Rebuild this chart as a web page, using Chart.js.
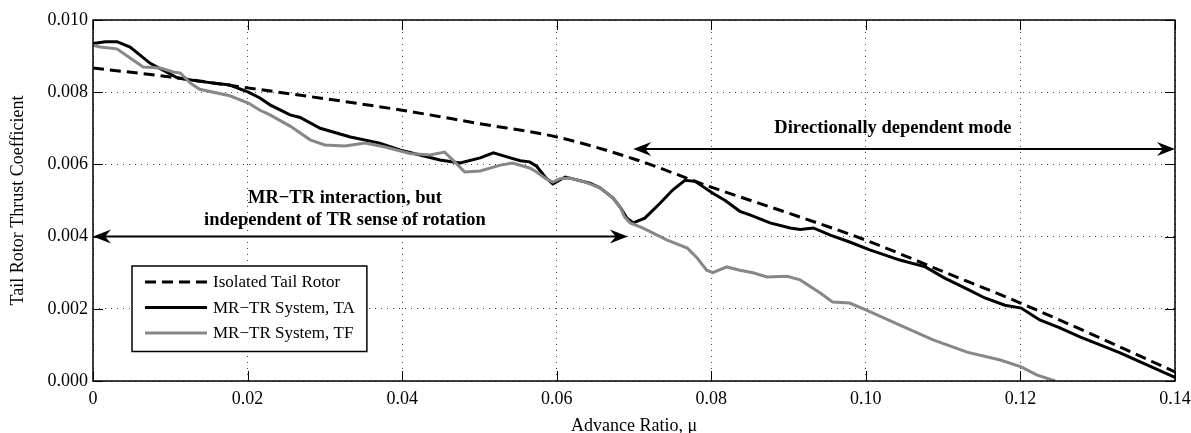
<!DOCTYPE html>
<html>
<head>
<meta charset="utf-8">
<title>Tail Rotor Thrust Coefficient</title>
<script src="https://cdn.jsdelivr.net/npm/chart.js@4.4.1/dist/chart.umd.min.js"></script>
<style>
  html, body { margin: 0; padding: 0; background: #fff; }
  canvas { display: block; }
</style>
</head>
<body>
<canvas id="thrustChart" width="1191" height="433"></canvas>
<script>
// Isolated tail rotor (dashed)
const isoMu = [0, 0.01, 0.02, 0.03, 0.04, 0.05, 0.06, 0.07, 0.08, 0.09, 0.10, 0.11, 0.12, 0.13, 0.14];
const isoCt = [0.00867, 0.00842, 0.00812, 0.00782, 0.0075, 0.00713, 0.00676, 0.00615, 0.00537, 0.00465, 0.00390, 0.00303, 0.00216, 0.00122, 0.00025];

// MR-TR system, TA
const taMu = [0, 0.0016, 0.0031, 0.0048, 0.0074, 0.0109, 0.0138, 0.0177, 0.0201, 0.0216, 0.0229, 0.0255, 0.0268, 0.0294,
  0.0333, 0.0371, 0.0397, 0.0423, 0.0449, 0.0475, 0.0501, 0.0518, 0.0540, 0.0553, 0.0565, 0.0574, 0.0585, 0.0595,
  0.0611, 0.0621, 0.0643, 0.0656, 0.0673, 0.0682, 0.0691, 0.0699, 0.0714, 0.0734, 0.0750, 0.0766, 0.0779, 0.0802,
  0.0818, 0.0837, 0.0850, 0.0876, 0.0902, 0.0915, 0.0932, 0.0954, 0.0979, 0.1005, 0.1044, 0.1077, 0.1102, 0.1128,
  0.1154, 0.1180, 0.1201, 0.1225, 0.1251, 0.1277, 0.1303, 0.1329, 0.1355, 0.1400];
const taCt = [0.00935, 0.0094, 0.0094, 0.00925, 0.0088, 0.0084, 0.0083, 0.0082, 0.0080, 0.00784, 0.00765, 0.00737, 0.0073, 0.0070,
  0.00676, 0.00659, 0.0064, 0.00626, 0.00612, 0.00604, 0.00618, 0.00632, 0.00618, 0.0061, 0.00607, 0.00595, 0.00565, 0.00546,
  0.00565, 0.0056, 0.00548, 0.00535, 0.00507, 0.00482, 0.00451, 0.00438, 0.00451, 0.00493, 0.00529, 0.00556, 0.00553, 0.0052,
  0.0050, 0.0047, 0.0046, 0.00438, 0.00424, 0.0042, 0.00424, 0.00404, 0.00385, 0.00363, 0.00335, 0.00316, 0.00285, 0.00258,
  0.0023, 0.0021, 0.00202, 0.00169, 0.00147, 0.00122, 0.0010, 0.00078, 0.00053, 0.0001];

// MR-TR system, TF
const tfMu = [0, 0.0009, 0.0031, 0.0048, 0.0065, 0.0087, 0.0104, 0.0113, 0.0126, 0.0138, 0.0177, 0.0201, 0.0216, 0.0229,
  0.0255, 0.0281, 0.0300, 0.0326, 0.0352, 0.0378, 0.0410, 0.0436, 0.0455, 0.0468, 0.0481, 0.0501, 0.0527, 0.0543,
  0.0565, 0.0574, 0.0585, 0.0595, 0.0604, 0.0617, 0.0637, 0.0656, 0.0673, 0.0682, 0.0688, 0.0695, 0.0708, 0.0717,
  0.0743, 0.0769, 0.0782, 0.0794, 0.0802, 0.0820, 0.0837, 0.0854, 0.0872, 0.0898, 0.0915, 0.0941, 0.0957, 0.0979,
  0.1000, 0.1044, 0.1087, 0.1131, 0.1174, 0.1201, 0.1221, 0.1245];
const tfCt = [0.0093, 0.00925, 0.0092, 0.00895, 0.0087, 0.00867, 0.00856, 0.00853, 0.00825, 0.00808, 0.0079, 0.0077, 0.0075, 0.00737,
  0.00706, 0.00668, 0.00654, 0.00651, 0.00659, 0.00648, 0.0063, 0.00626, 0.00634, 0.00607, 0.00579, 0.00582, 0.00598, 0.00604,
  0.0059, 0.00579, 0.00562, 0.00551, 0.0056, 0.00562, 0.00551, 0.00535, 0.00507, 0.00482, 0.00454, 0.00438, 0.00427, 0.00418,
  0.0039, 0.00368, 0.0034, 0.00307, 0.0030, 0.00316, 0.00307, 0.0030, 0.00288, 0.0029, 0.0028, 0.00244, 0.00219, 0.00216,
  0.00197, 0.00155, 0.00114, 0.0008, 0.00058, 0.00039, 0.00017, 0.0];

const xTicks = [0, 0.02, 0.04, 0.06, 0.08, 0.10, 0.12, 0.14];
const yTicks = [0, 0.002, 0.004, 0.006, 0.008, 0.010];

// regime arrows and their captions, in data units
const regimes = [
  { from: 0, to: 0.0692, ct: 0.0040, textMu: 0.0326,
    lines: ['MR\u2212TR interaction, but', 'independent of TR sense of rotation'], lineCt: [0.00507, 0.00446] },
  { from: 0.0699, to: 0.14, ct: 0.00643, textMu: 0.1035,
    lines: ['Directionally dependent mode'], lineCt: [0.00701] }
];

const serif = '"Liberation Serif", "Times New Roman", serif';
const toXY = (xs, ys) => xs.map((v, i) => ({ x: v, y: ys[i] }));

function drawArrowHead(ctx, x, y, dir) {
  const len = 18, half = 7, notch = 6;
  ctx.beginPath();
  ctx.moveTo(x, y);
  ctx.lineTo(x - dir * len, y - half);
  ctx.lineTo(x - dir * (len - notch), y);
  ctx.lineTo(x - dir * len, y + half);
  ctx.closePath();
  ctx.fill();
}

const frameAndNotes = {
  id: 'frameAndNotes',
  afterDatasetsDraw(chart) {
    const { ctx, chartArea: a, scales: { x, y } } = chart;
    ctx.save();

    // box around the plot with inward ticks on all four sides
    ctx.strokeStyle = '#000';
    ctx.lineWidth = 1.5;
    ctx.strokeRect(a.left, a.top, a.right - a.left, a.bottom - a.top);
    ctx.lineWidth = 1;
    ctx.beginPath();
    xTicks.forEach(v => {
      const px = Math.round(x.getPixelForValue(v)) + 0.5;
      ctx.moveTo(px, a.bottom); ctx.lineTo(px, a.bottom - 10);
      ctx.moveTo(px, a.top); ctx.lineTo(px, a.top + 10);
    });
    yTicks.forEach(v => {
      const py = Math.round(y.getPixelForValue(v)) + 0.5;
      ctx.moveTo(a.left, py); ctx.lineTo(a.left + 10, py);
      ctx.moveTo(a.right, py); ctx.lineTo(a.right - 10, py);
    });
    ctx.stroke();

    // double-headed arrows with bold captions
    ctx.fillStyle = '#000';
    ctx.strokeStyle = '#000';
    ctx.font = 'bold 18.5px ' + serif;
    ctx.textAlign = 'center';
    ctx.textBaseline = 'middle';
    regimes.forEach(r => {
      const x0 = x.getPixelForValue(r.from), x1 = x.getPixelForValue(r.to);
      const py = y.getPixelForValue(r.ct);
      ctx.lineWidth = 2;
      ctx.beginPath();
      ctx.moveTo(x0 + 8, py); ctx.lineTo(x1 - 8, py);
      ctx.stroke();
      drawArrowHead(ctx, x0, py, -1);
      drawArrowHead(ctx, x1, py, 1);
      r.lines.forEach((t, i) => {
        ctx.fillText(t, x.getPixelForValue(r.textMu), y.getPixelForValue(r.lineCt[i]));
      });
    });

    // legend box in the lower left corner
    const sets = chart.data.datasets;
    const left = a.left + 39, top = a.top + 246;
    const rowH = 25.5, sampleW = 62;
    ctx.font = '17px ' + serif;
    const textW = Math.max(...sets.map(d => ctx.measureText(d.label).width));
    const boxW = 13 + sampleW + 6 + textW + 12, boxH = rowH * sets.length + 9;
    ctx.fillStyle = '#fff';
    ctx.fillRect(left, top, boxW, boxH);
    ctx.lineWidth = 1.5;
    ctx.strokeStyle = '#000';
    ctx.strokeRect(left, top, boxW, boxH);
    ctx.textAlign = 'left';
    sets.forEach((d, i) => {
      const ry = top + 16 + i * rowH;
      ctx.strokeStyle = d.borderColor;
      ctx.lineWidth = d.borderWidth;
      ctx.setLineDash(d.borderDash || []);
      ctx.beginPath();
      ctx.moveTo(left + 13, ry); ctx.lineTo(left + 13 + sampleW, ry);
      ctx.stroke();
      ctx.setLineDash([]);
      ctx.fillStyle = '#000';
      ctx.fillText(d.label, left + 13 + sampleW + 6, ry + 1);
    });
    ctx.restore();
  }
};

new Chart(document.getElementById('thrustChart'), {
  type: 'line',
  data: {
    datasets: [
      {
        label: 'Isolated Tail Rotor',
        data: toXY(isoMu, isoCt),
        borderColor: '#000',
        borderWidth: 3,
        borderDash: [11, 6],
        cubicInterpolationMode: 'monotone',
        pointRadius: 0,
        order: 3
      },
      {
        label: 'MR\u2212TR System, TA',
        data: toXY(taMu, taCt),
        borderColor: '#000',
        borderWidth: 3,
        tension: 0,
        pointRadius: 0,
        order: 2
      },
      {
        label: 'MR\u2212TR System, TF',
        data: toXY(tfMu, tfCt),
        borderColor: '#878787',
        borderWidth: 3,
        tension: 0,
        pointRadius: 0,
        order: 1
      }
    ]
  },
  options: {
    responsive: false,
    animation: false,
    devicePixelRatio: 1,
    layout: { padding: { top: 20, right: 0, left: 0, bottom: 0 } },
    plugins: {
      legend: { display: false },
      tooltip: { enabled: false }
    },
    scales: {
      x: {
        type: 'linear',
        min: 0,
        max: 0.14,
        afterBuildTicks: s => { s.ticks = xTicks.map(v => ({ value: v })); },
        afterFit: s => { s.height = 52; s.paddingLeft = 0; s.paddingRight = 16; },
        ticks: {
          color: '#000',
          padding: 7,
          maxRotation: 0,
          font: { family: serif, size: 18 },
          callback: v => (Math.abs(v) < 1e-9 ? '0' : v.toFixed(2))
        },
        grid: { color: '#444', lineWidth: 1, drawTicks: false },
        border: { display: false, dash: [1, 5] },
        title: {
          display: true,
          text: 'Advance Ratio, \u03bc',
          color: '#000',
          font: { family: serif, size: 18, lineHeight: 0.7 },
          padding: { top: 0, bottom: 0 }
        }
      },
      y: {
        min: 0,
        max: 0.010,
        afterBuildTicks: s => { s.ticks = yTicks.map(v => ({ value: v })); },
        afterFit: s => { s.width = 93; },
        ticks: {
          color: '#000',
          padding: 5,
          font: { family: serif, size: 18 },
          callback: v => v.toFixed(3)
        },
        grid: { color: '#444', lineWidth: 1, drawTicks: false },
        border: { display: false, dash: [1, 5] },
        title: {
          display: true,
          text: 'Tail Rotor Thrust Coefficient',
          color: '#000',
          font: { family: serif, size: 18, lineHeight: 1.2 },
          padding: { top: 7, bottom: 0 }
        }
      }
    }
  },
  plugins: [frameAndNotes]
});
</script>
</body>
</html>
